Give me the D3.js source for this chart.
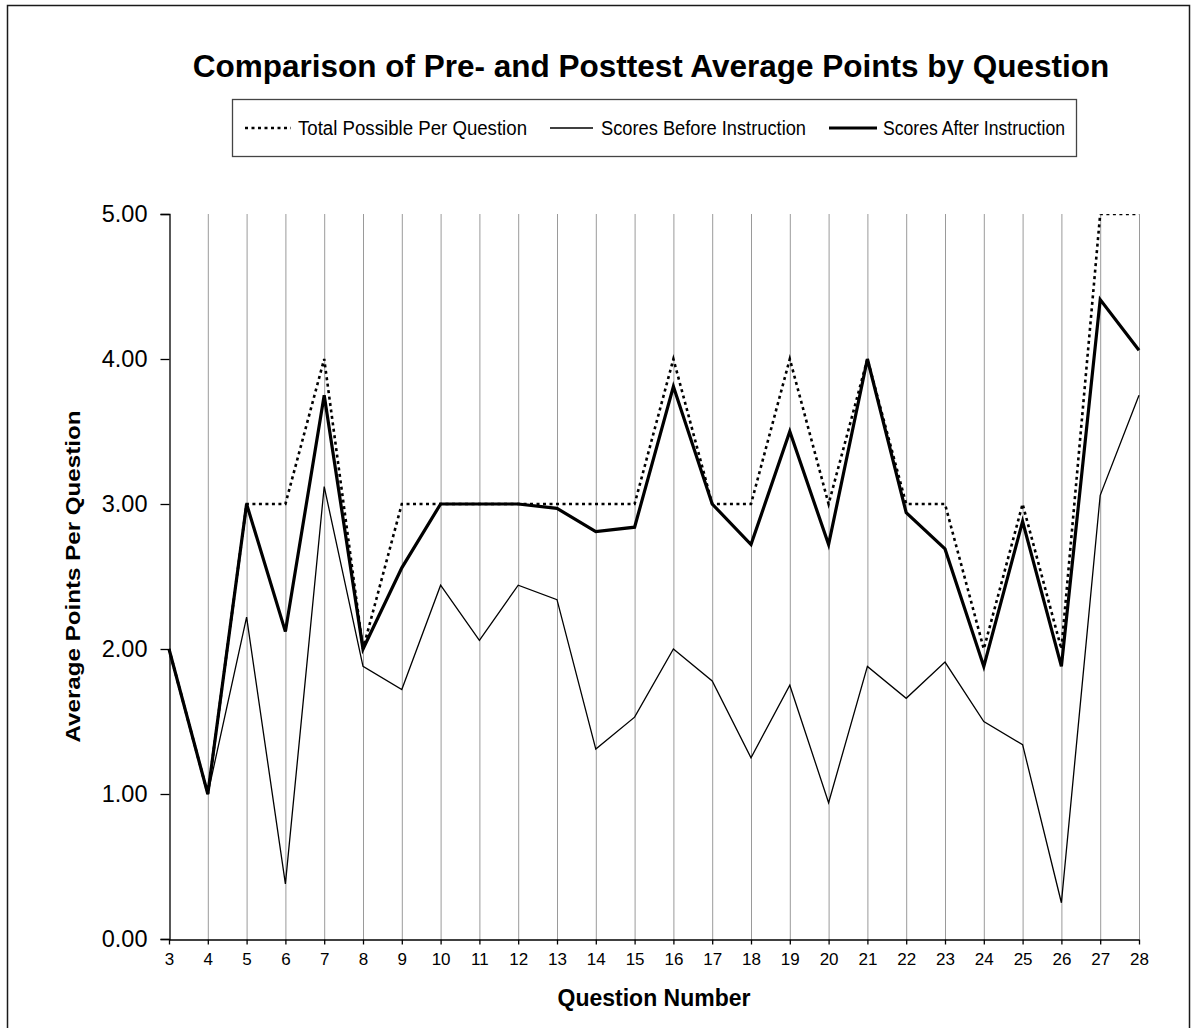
<!DOCTYPE html>
<html>
<head>
<meta charset="utf-8">
<script src="https://cdn.jsdelivr.net/npm/d3@7"></script>
<style>
  html, body { margin: 0; padding: 0; background: #fff; }
  svg { display: block; font-family: "Liberation Sans", Arial, sans-serif; }
</style>
</head>
<body>
<div id="chart"></div>
<script>
// question numbers on the x axis
var questions = [3, 4, 5, 6, 7, 8, 9, 10, 11, 12, 13, 14, 15, 16, 17, 18, 19, 20, 21, 22, 23, 24, 25, 26, 27, 28];
// points
var totalPossible = [2, 1, 3, 3, 4, 2, 3, 3, 3, 3, 3, 3, 3, 4, 3, 3, 4, 3, 4, 3, 3, 2, 3, 2, 5, 5];
var scoresBefore = [2.00, 1.00, 2.22, 0.38, 3.12, 1.88, 1.72, 2.44, 2.06, 2.44, 2.34, 1.31, 1.53, 2.00, 1.78, 1.25, 1.75, 0.94, 1.88, 1.66, 1.91, 1.50, 1.34, 0.25, 3.06, 3.75];
var scoresAfter = [2.00, 1.00, 3.00, 2.12, 3.75, 2.00, 2.56, 3.00, 3.00, 3.00, 2.97, 2.81, 2.84, 3.81, 3.00, 2.72, 3.50, 2.72, 4.00, 2.94, 2.69, 1.88, 2.88, 1.88, 4.41, 4.06];
var yTicks = [0, 1, 2, 3, 4, 5];
var seriesNames = ["Total Possible Per Question", "Scores Before Instruction", "Scores After Instruction"];

var width = 1191, height = 1028;
var plot = {left: 169, right: 1139, top: 214, bottom: 939};

var svg = d3.select("#chart").append("svg")
    .attr("width", width)
    .attr("height", height);

// outer frame
svg.append("rect")
    .attr("x", 7.5).attr("y", 5.5)
    .attr("width", 1182).attr("height", 1040)
    .attr("fill", "none")
    .attr("stroke", "#1a1a1a")
    .attr("stroke-width", 1.5);

svg.append("text")
    .attr("x", 651)
    .attr("y", 77)
    .attr("text-anchor", "middle")
    .style("font-size", "31.5px")
    .style("font-weight", "bold")
    .text("Comparison of Pre- and Posttest Average Points by Question");

var x = d3.scalePoint()
    .domain(questions)
    .range([plot.left, plot.right]);

var y = d3.scaleLinear()
    .domain([0, 5])
    .range([plot.bottom, plot.top]);

// vertical grid lines
svg.append("g")
    .selectAll("line")
    .data(questions.slice(1))
    .enter()
    .append("line")
    .attr("x1", d => x(d) + 0.5).attr("x2", d => x(d) + 0.5)
    .attr("y1", y(0)).attr("y2", y(5))
    .attr("stroke", "#9a9a9a")
    .attr("stroke-width", 1);

// y axis
var yAxis = svg.append("g")
    .attr("transform", `translate(${plot.left + 0.5},0)`)
    .call(d3.axisLeft(y).tickValues(yTicks).tickFormat(d3.format(".2f")).tickSize(9).tickPadding(13));
yAxis.select(".domain").attr("stroke", "#000").attr("stroke-width", 1.3);
yAxis.selectAll(".tick line").attr("stroke", "#000").attr("stroke-width", 1.3);
yAxis.selectAll("text")
    .style("font-size", "23.5px")
    .style("font-family", "'Liberation Sans', Arial, sans-serif")
    .attr("fill", "#000");

// x axis
var xAxis = svg.append("g")
    .attr("transform", `translate(0,${plot.bottom + 0.5})`)
    .call(d3.axisBottom(x).tickSize(5).tickPadding(8).tickSizeOuter(0));
xAxis.select(".domain").attr("stroke", "#000").attr("stroke-width", 1.3);
xAxis.selectAll(".tick line").attr("stroke", "#000").attr("stroke-width", 1.3);
xAxis.selectAll("text")
    .style("font-size", "17px")
    .style("font-family", "'Liberation Sans', Arial, sans-serif")
    .attr("fill", "#000");

// axis titles
svg.append("text")
    .attr("transform", `translate(80,${(plot.top + plot.bottom) / 2}) rotate(-90)`)
    .attr("text-anchor", "middle")
    .attr("textLength", 332)
    .attr("lengthAdjust", "spacingAndGlyphs")
    .style("font-size", "21px")
    .style("font-weight", "bold")
    .text("Average Points Per Question");

svg.append("text")
    .attr("x", (plot.left + plot.right) / 2)
    .attr("y", 1006)
    .attr("text-anchor", "middle")
    .style("font-size", "23px")
    .style("font-weight", "bold")
    .text("Question Number");

// clip at the plot area so the 5.00 line sits half hidden like the original
svg.append("clipPath").attr("id", "plotclip")
    .append("rect")
    .attr("x", plot.left - 5).attr("y", plot.top)
    .attr("width", plot.right - plot.left + 10)
    .attr("height", plot.bottom - plot.top + 5);

var line = d3.line()
    .x((d, i) => x(questions[i]))
    .y(d => y(d));

var styles = [
    {data: totalPossible, width: 2.6, dash: "3,3.5"},
    {data: scoresBefore, width: 1.3, dash: null},
    {data: scoresAfter, width: 3.2, dash: null}
];

var lines = svg.append("g").attr("clip-path", "url(#plotclip)");
styles.forEach(function(s){
    lines.append("path")
        .datum(s.data)
        .attr("d", line)
        .attr("fill", "none")
        .attr("stroke", "#000")
        .attr("stroke-width", s.width)
        .attr("stroke-linejoin", "miter")
        .attr("stroke-dasharray", s.dash);
});

// legend
var legend = svg.append("g");
legend.append("rect")
    .attr("x", 232.5).attr("y", 99.5)
    .attr("width", 844).attr("height", 57)
    .attr("fill", "#fff")
    .attr("stroke", "#444")
    .attr("stroke-width", 1.3);

var legendItems = [
    {x1: 245, x2: 291, tx: 298, len: 229},
    {x1: 550, x2: 593, tx: 601, len: 205},
    {x1: 829, x2: 877, tx: 883, len: 182}
];
var ly = 128;
legendItems.forEach(function(it, i){
    legend.append("line")
        .attr("x1", it.x1).attr("x2", it.x2)
        .attr("y1", ly).attr("y2", ly)
        .attr("stroke", "#000")
        .attr("stroke-width", styles[i].width)
        .attr("stroke-dasharray", styles[i].dash);
    legend.append("text")
        .attr("x", it.tx)
        .attr("y", ly)
        .attr("dy", "0.35em")
        .attr("textLength", it.len)
        .attr("lengthAdjust", "spacingAndGlyphs")
        .style("font-size", "19.5px")
        .text(seriesNames[i]);
});
</script>
</body>
</html>
